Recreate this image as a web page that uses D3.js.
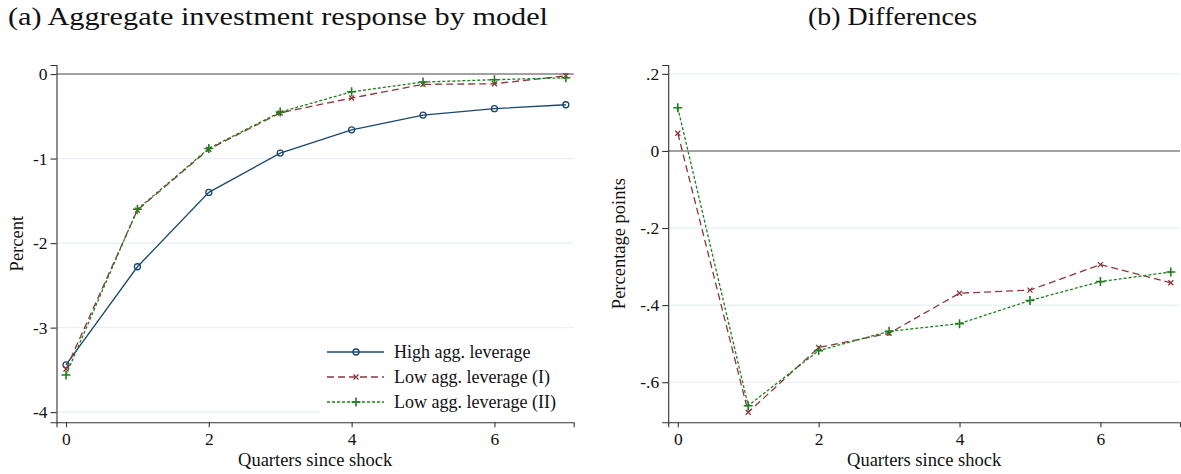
<!DOCTYPE html>
<html>
<head>
<meta charset="utf-8">
<script src="https://cdn.jsdelivr.net/npm/d3@7"></script>
<style>
  body { margin: 0; background: #fff; }
  svg { display: block; }
  text { font-family: "Liberation Serif", "Times New Roman", serif; fill: #111; }
</style>
</head>
<body>
<svg id="chart" width="1181" height="474"></svg>
<script>
// data
const quarters = [0, 1, 2, 3, 4, 5, 6, 7];
const highLev = [-3.44, -2.28, -1.40, -0.935, -0.66, -0.485, -0.41, -0.363];
const lowLevI = [-3.49, -1.61, -0.89, -0.46, -0.284, -0.122, -0.115, -0.02];
const lowLevII = [-3.56, -1.60, -0.88, -0.45, -0.21, -0.095, -0.067, -0.044];
const diffI = [0.046, -0.678, -0.510, -0.473, -0.369, -0.361, -0.295, -0.342];
const diffII = [0.112, -0.661, -0.518, -0.468, -0.448, -0.388, -0.339, -0.314];

const xTicks = [0, 2, 4, 6];
const leftYTicks = [0, -1, -2, -3, -4];
const rightYTicks = [0.2, 0, -0.2, -0.4, -0.6];
const rightYLabels = [".2", "0", "-.2", "-.4", "-.6"];
const legendLabels = ["High agg. leverage", "Low agg. leverage (I)", "Low agg. leverage (II)"];

const navy = "#1a476f";
const maroon = "#90353b";
const green = "#1f7f1f";

const svg = d3.select("#chart");

// marker drawing
function drawMarker(g, type, x, y, color) {
  if (type === "circle") {
    g.append("circle").attr("cx", x).attr("cy", y).attr("r", 3)
      .attr("fill", "none").attr("stroke", color).attr("stroke-width", 1.3);
  } else if (type === "x") {
    const s = 2.5;
    g.append("path")
      .attr("d", `M${x - s},${y - s}L${x + s},${y + s}M${x - s},${y + s}L${x + s},${y - s}`)
      .attr("stroke", color).attr("stroke-width", 1.3);
  } else {
    const s = 4.5;
    g.append("path")
      .attr("d", `M${x - s},${y}L${x + s},${y}M${x},${y - s}L${x},${y + s}`)
      .attr("stroke", color).attr("stroke-width", 1.6);
  }
}

function panel(opts) {
  const g = svg.append("g");
  const x = d3.scaleLinear().domain(opts.xDomain).range([opts.left, opts.right]);
  const y = d3.scaleLinear().domain(opts.yDomain).range([opts.bottom, opts.top]);

  // gridlines
  g.selectAll(".grid")
    .data(opts.yTicks.filter((d) => d !== 0))
    .join("line")
    .attr("x1", opts.left).attr("x2", opts.right)
    .attr("y1", (d) => y(d)).attr("y2", (d) => y(d))
    .attr("stroke", "#e6eff2").attr("stroke-width", 1.2);

  // zero reference line
  g.append("line")
    .attr("x1", opts.left).attr("x2", opts.right)
    .attr("y1", y(0)).attr("y2", y(0))
    .attr("stroke", "#444").attr("stroke-width", 1.1);

  // axes
  const yAxis = d3.axisLeft(y).tickValues(opts.yTicks).tickSize(6).tickPadding(3)
    .tickFormat((d, i) => opts.yLabels[i]);
  const gy = g.append("g").attr("transform", `translate(${opts.left},0)`).call(yAxis);
  const xAxis = d3.axisBottom(x).tickValues(xTicks).tickSize(5).tickPadding(5);
  const gx = g.append("g").attr("transform", `translate(0,${opts.bottom})`).call(xAxis);
  [gy, gx].forEach((a) => {
    a.select(".domain").attr("stroke", "#333").attr("stroke-width", 1.1);
    a.selectAll(".tick line").attr("stroke", "#333").attr("stroke-width", 1.1);
    a.selectAll(".tick text")
      .style("font-family", '"Liberation Serif", serif')
      .style("font-size", "17.5px").attr("fill", "#111");
  });

  // axis titles
  g.append("text")
    .attr("x", (opts.left + opts.right) / 2).attr("y", 466)
    .attr("text-anchor", "middle").style("font-size", "18.5px")
    .text("Quarters since shock");
  g.append("text")
    .attr("transform", `translate(${opts.yTitleX},${(opts.top + opts.bottom) / 2}) rotate(-90)`)
    .attr("text-anchor", "middle").style("font-size", "18.5px")
    .text(opts.yTitle);

  // panel title
  g.append("text")
    .attr("x", opts.titleX).attr("y", 25)
    .attr("text-anchor", "middle").style("font-size", "25px")
    .attr("textLength", opts.titleLen).attr("lengthAdjust", "spacingAndGlyphs")
    .text(opts.title);

  // series
  const line = d3.line().x((d) => x(d[0])).y((d) => y(d[1]));
  opts.series.forEach((s) => {
    const pts = quarters.map((q, i) => [q, s.values[i]]);
    g.append("path")
      .datum(pts)
      .attr("d", line)
      .attr("fill", "none")
      .attr("stroke", s.color)
      .attr("stroke-width", 1.3)
      .attr("stroke-dasharray", s.dash);
    pts.forEach((p) => drawMarker(g, s.marker, x(p[0]), y(p[1]), s.color));
  });

  return { g, x, y };
}

const leftSeries = [
  { values: highLev, color: navy, dash: null, marker: "circle" },
  { values: lowLevI, color: maroon, dash: "7,4", marker: "x" },
  { values: lowLevII, color: green, dash: "3,2", marker: "plus" },
];

const left = panel({
  left: 56.5, right: 573.7, top: 65, bottom: 422.3,
  xDomain: [-0.133, 7.11], yDomain: [-4.12, 0.107],
  yTicks: leftYTicks, yLabels: leftYTicks.map((d) => String(d)),
  yTitle: "Percent", yTitleX: 23,
  title: "(a) Aggregate investment response by model", titleX: 278, titleLen: 540,
  series: leftSeries,
});

panel({
  left: 668.2, right: 1180, top: 65, bottom: 422.3,
  xDomain: [-0.136, 7.13], yDomain: [-0.704, 0.223],
  yTicks: rightYTicks, yLabels: rightYLabels,
  yTitle: "Percentage points", yTitleX: 625,
  title: "(b) Differences", titleX: 892.5, titleLen: 169,
  series: [
    { values: diffI, color: maroon, dash: "7,4", marker: "x" },
    { values: diffII, color: green, dash: "3,2", marker: "plus" },
  ],
});

// legend inside left panel
const lg = left.g.append("g");
lg.append("rect")
  .attr("x", 320).attr("y", 338).attr("width", 253).attr("height", 79)
  .attr("fill", "#fff");
leftSeries.forEach((s, i) => {
  const yy = 352 + i * 25;
  lg.append("line")
    .attr("x1", 327).attr("x2", 384).attr("y1", yy).attr("y2", yy)
    .attr("stroke", s.color).attr("stroke-width", 1.3)
    .attr("stroke-dasharray", s.dash);
  drawMarker(lg, s.marker, 356, yy, s.color);
  lg.append("text")
    .attr("x", 394).attr("y", yy + 6)
    .style("font-size", "18px")
    .text(legendLabels[i]);
});
</script>
</body>
</html>
